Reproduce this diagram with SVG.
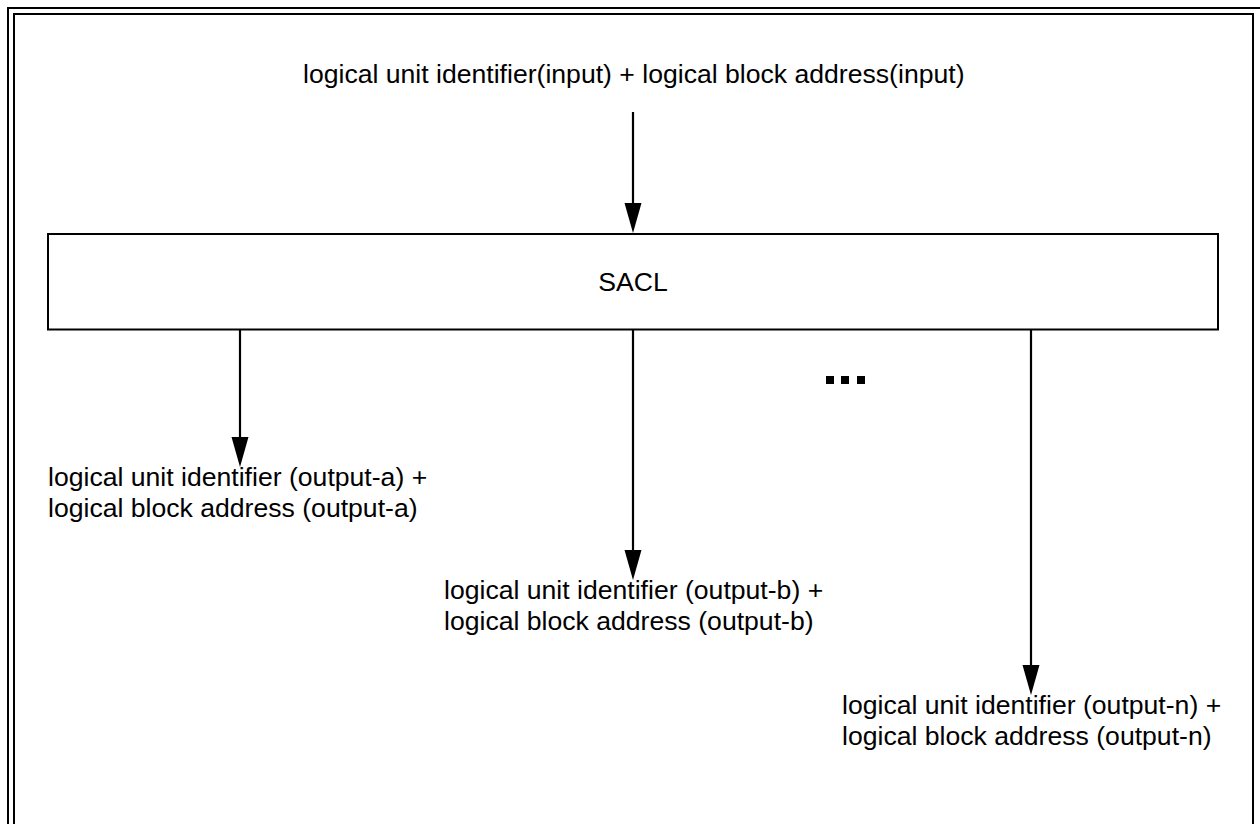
<svg xmlns="http://www.w3.org/2000/svg" width="1260" height="824" viewBox="0 0 1260 824">
<style>
.frame{fill:none;stroke:#000;stroke-width:2}
.box{fill:#fff;stroke:#000;stroke-width:2}
.line{fill:none;stroke:#000;stroke-width:2.2}
.head{fill:#000;stroke:none}
text{font-family:"Liberation Sans",Arial,sans-serif;font-size:26.6px;fill:#000}
</style>
<rect width="1260" height="824" fill="#fff"/>
<g id="frame">
<rect class="frame" x="8" y="8" width="1270" height="840"/>
<rect class="frame" x="14" y="14" width="1239" height="830"/>
</g>
<g id="connectors">
<line class="line" x1="633" y1="112" x2="633" y2="205"/>
<polygon class="head" points="633,233 624.5,203 641.5,203"/>
<line class="line" x1="240" y1="330" x2="240" y2="440"/>
<polygon class="head" points="240,467 231.5,437 248.5,437"/>
<line class="line" x1="633" y1="330" x2="633" y2="553"/>
<polygon class="head" points="633,580 624.5,550 641.5,550"/>
<line class="line" x1="1031" y1="330" x2="1031" y2="668"/>
<polygon class="head" points="1031,695 1022.5,665 1039.5,665"/>
</g>
<g id="input">
<text x="303" y="83">logical unit identifier(input) + logical block address(input)</text>
</g>
<g id="sacl">
<rect class="box" x="48" y="234" width="1170" height="95.5"/>
<text x="633" y="291" text-anchor="middle">SACL</text>
</g>
<g id="ellipsis">
<rect x="826" y="376" width="8" height="8"/>
<rect x="841" y="376" width="8" height="8"/>
<rect x="857" y="376" width="8" height="8"/>
</g>
<g id="output-a">
<text x="48" y="486">logical unit identifier (output-a) +</text>
<text x="48" y="517">logical block address (output-a)</text>
</g>
<g id="output-b">
<text x="444" y="599">logical unit identifier (output-b) +</text>
<text x="444" y="630">logical block address (output-b)</text>
</g>
<g id="output-n">
<text x="842" y="714">logical unit identifier (output-n) +</text>
<text x="842" y="745">logical block address (output-n)</text>
</g>
</svg>
